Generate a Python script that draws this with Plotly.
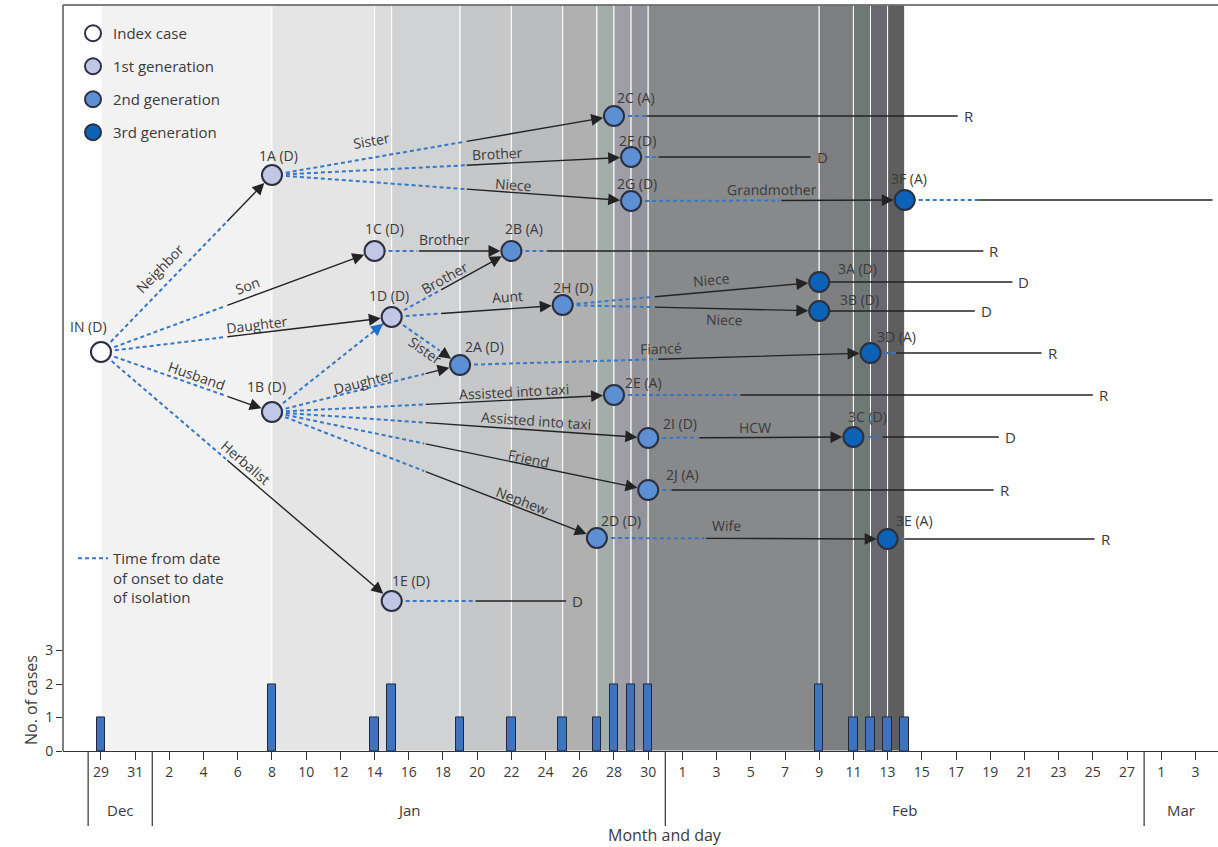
import math
import plotly.graph_objects as go

FONT = "Open Sans"
TXT = "#3a3a3a"

# ---------------- data (day 0 = 29 Dec) ----------------
case_id = ["IN", "1A", "1B", "1C", "1D", "1E",
           "2A", "2B", "2C", "2D", "2E", "2F", "2G", "2H", "2I", "2J",
           "3A", "3B", "3C", "3D", "3E", "3F"]
generation = [0, 1, 1, 1, 1, 1,
              2, 2, 2, 2, 2, 2, 2, 2, 2, 2,
              3, 3, 3, 3, 3, 3]
status = ["D", "D", "D", "D", "D", "D",
          "D", "A", "A", "D", "A", "D", "D", "D", "D", "A",
          "D", "D", "D", "A", "A", "A"]
onset_day = [0, 10, 10, 16, 17, 17,
             21, 24, 30, 29, 30, 31, 31, 27, 32, 32,
             42, 42, 44, 45, 46, 47]
isolation_day = [7.3, 21.3, 18.9, 18.5, 19.8, 21.9,
                 32.5, 26.1, 31.9, 35.3, 37.4, 32.6, 39.7, 32.3, 34.9, 33.4,
                 42.0, 42.0, 45.7, 46.5, 47.0, 51.3]
outcome_day = [None, None, None, None, None, 27.2,
               None, 51.6, 50.1, None, 58.0, 41.5, None, None, None, 52.2,
               53.3, 51.1, 52.5, 55.0, 58.1, 65.0]
# vertical row of each case in the transmission diagram (top = 5, bottom = 751)
case_row = [352, 175, 412, 251, 317, 601,
            365, 251, 116, 538, 395, 157, 201, 305, 438, 490,
            282, 311, 437, 353, 539, 200]

edge_src = ["IN", "IN", "IN", "IN", "IN", "1A", "1A", "1A", "1C", "1D", "1D", "1D",
            "1B", "1B", "1B", "1B", "1B", "1B", "2G", "2H", "2H", "2A", "2I", "2D"]
edge_tgt = ["1A", "1C", "1D", "1B", "1E", "2C", "2F", "2G", "2B", "2B", "2H", "2A",
            "1D", "2A", "2E", "2I", "2J", "2D", "3F", "3A", "3B", "3D", "3C", "3E"]
edge_label = ["Neighbor", "Son", "Daughter", "Husband", "Herbalist", "Sister", "Brother", "Niece",
              "Brother", "Brother", "Aunt", "Sister", "", "Daughter", "Assisted into taxi",
              "Assisted into taxi", "Friend", "Nephew", "Grandmother", "Niece", "Niece",
              "Fiancé", "HCW", "Wife"]

bar_day = [0, 10, 16, 17, 21, 24, 27, 29, 30, 31, 32, 42, 44, 45, 46, 47]
bar_count = [1, 2, 1, 2, 1, 1, 1, 1, 2, 2, 2, 2, 1, 1, 1, 1]

tick_day = list(range(0, 65, 2))
tick_label = ["29", "31", "2", "4", "6", "8", "10", "12", "14", "16", "18", "20", "22",
              "24", "26", "28", "30", "1", "3", "5", "7", "9", "11", "13", "15", "17",
              "19", "21", "23", "25", "27", "1", "3"]
month_name = ["Dec", "Jan", "Feb", "Mar"]

gen_name = ["Index case", "1st generation", "2nd generation", "3rd generation"]

# ---------------- style ----------------
gen_fill = ["#ffffff", "#c2c7e7", "#5d8fd5", "#0b62b6"]
NODE_EDGE = "#2c2f3f"
DASH_BLUE = "#3579c6"
SOLID = "#232323"
band_color = ["#f2f2f3", "#e5e5e6", "#dcdcdd", "#d1d2d4", "#c6c7c8", "#bbbcbe",
              "#b0b0b1", "#a3adaa", "#9e9ea6", "#93939c", "#88898b", "#7d7e80",
              "#6f7874", "#69686f", "#5e5e5e"]

# label offsets (px) for node labels: dx, dy
node_label_off = {
    "IN": (-12, -26), "1A": (7, -20), "1B": (-5, -26), "1C": (10, -23), "1D": (-3, -22),
    "1E": (19, -21), "2A": (24, -19), "2B": (13, -23), "2C": (22, -19), "2D": (24, -18),
    "2E": (30, -13), "2F": (6, -17), "2G": (6, -18), "2H": (10, -18), "2I": (32, -15),
    "2J": (34, -16), "3A": (38, -14), "3B": (40, -12), "3C": (14, -21), "3D": (26, -17),
    "3E": (27, -19), "3F": (4, -22),
}
# edge label placement: fraction along edge, signed perpendicular offset (px, + = above)
edge_label_pos = [(0.41, 16), (0.55, 12), (0.54, 9), (0.54, 9), (0.475, 10), (0.30, 17),
                  (0.63, 10), (0.67, 8), (0.51, 12), (0.48, 9), (0.68, 12), (0.56, -8),
                  (0.5, 0), (0.50, 7), (0.71, 8), (0.70, 10), (0.68, 7), (0.76, 8),
                  (0.515, 11), (0.585, 12), (0.63, -11), (0.49, 11), (0.52, 10), (0.445, 13)]

W, H = 1218, 847
ML, MR, MT, MB = 63, 0, 5, 96
X0, X1 = -2.22, 65.32
PXD = (W - ML - MR) / (X1 - X0)      # px per day
PLOT_H = H - MT - MB
PLOT_W = W - ML - MR
ROW_TOP, ROW_BOT = 5, 751

idx = {c: i for i, c in enumerate(case_id)}

fig = go.Figure()

# background bands between successive onset dates
shapes = []
for k in range(len(bar_day) - 1):
    shapes.append(dict(type="rect", xref="x", yref="paper", x0=bar_day[k], x1=bar_day[k + 1],
                       y0=0, y1=1, fillcolor=band_color[k], line=dict(color="white", width=1),
                       layer="below"))

# ---------------- edges ----------------
dash_x, dash_y = [], []
sol_x, sol_y = [], []
annotations = []

for e, (s, t) in enumerate(zip(edge_src, edge_tgt)):
    i, j = idx[s], idx[t]
    xs, ys = onset_day[i], case_row[i]
    xt, yt = onset_day[j], case_row[j]
    tiso = (isolation_day[i] - xs) / (xt - xs)
    dxp, dyp = (xt - xs) * PXD, (yt - ys)
    L = math.hypot(dxp, dyp)
    ux, uy = dxp / L, dyp / L
    if tiso < 1:
        xi, yi = xs + tiso * (xt - xs), ys + tiso * (yt - ys)
        dash_x += [xs, xi, None]
        dash_y += [ys, yi, None]
        annotations.append(dict(x=xt, y=yt, ax=xi, ay=yi, xref="x", yref="y2", axref="x",
                                ayref="y2", text="", showarrow=True, arrowhead=2,
                                arrowsize=1.7, arrowwidth=1.4, arrowcolor=SOLID, standoff=11))
    else:
        dash_x += [xs, xt, None]
        dash_y += [ys, yt, None]
        annotations.append(dict(x=xt, y=yt, ax=xt - 26 * ux / PXD, ay=yt - 26 * uy,
                                xref="x", yref="y2", axref="x", ayref="y2", text="",
                                showarrow=True, arrowhead=2, arrowsize=1.7, arrowwidth=1.4,
                                arrowcolor="#1f6fc4", standoff=11))
    if edge_label[e]:
        tf, off = edge_label_pos[e]
        th = math.atan2(dyp, dxp)
        annotations.append(dict(x=xs + tf * (xt - xs), y=ys + tf * (yt - ys), xref="x", yref="y2",
                                text=edge_label[e], showarrow=False,
                                textangle=math.degrees(th),
                                xshift=off * math.sin(th), yshift=off * math.cos(th),
                                font=dict(family=FONT, size=14, color=TXT)))

# onset-to-isolation and outcome lines for terminal cases
for i, c in enumerate(case_id):
    if outcome_day[i] is None:
        continue
    y = case_row[i]
    if isolation_day[i] > onset_day[i]:
        dash_x += [onset_day[i], isolation_day[i], None]
        dash_y += [y, y, None]
    sol_x += [isolation_day[i], outcome_day[i], None]
    sol_y += [y, y, None]
    if outcome_day[i] + 1.0 < X1:          # outcome letter only when inside the frame
        annotations.append(dict(x=outcome_day[i], y=y, xref="x", yref="y2",
                                text="R" if status[i] == "A" else "D", showarrow=False,
                                xanchor="left", xshift=4,
                                font=dict(family=FONT, size=15, color=TXT)))

fig.add_trace(go.Scatter(x=dash_x, y=dash_y, mode="lines", xaxis="x", yaxis="y2",
                         line=dict(color=DASH_BLUE, width=2, dash="4px,3px"),
                         name="Time from date<br>of onset to date<br>of isolation",
                         legend="legend2", hoverinfo="skip"))
fig.add_trace(go.Scatter(x=sol_x, y=sol_y, mode="lines", xaxis="x", yaxis="y2",
                         line=dict(color=SOLID, width=1.5), showlegend=False, hoverinfo="skip"))

# nodes
for g in range(4):
    members = [i for i in range(len(case_id)) if generation[i] == g]
    fig.add_trace(go.Scatter(
        x=[onset_day[i] for i in members], y=[case_row[i] for i in members],
        mode="markers", xaxis="x", yaxis="y2", name=gen_name[g], legendgroup=f"g{g}",
        marker=dict(size=20, color=gen_fill[g], line=dict(color=NODE_EDGE, width=2)),
        text=[case_id[i] for i in members], hoverinfo="text"))

for i, c in enumerate(case_id):
    dx, dy = node_label_off[c]
    annotations.append(dict(x=onset_day[i], y=case_row[i], xref="x", yref="y2",
                            text=f"{c} ({status[i]})", showarrow=False,
                            xshift=dx, yshift=-dy,
                            font=dict(family=FONT, size=14, color=TXT)))

# epidemic curve
fig.add_trace(go.Bar(x=bar_day, y=bar_count, width=0.5, xaxis="x", yaxis="y",
                     marker=dict(color="#3e74bf", line=dict(color="#20283d", width=1)),
                     showlegend=False, hoverinfo="x+y"))

# month separators and labels
first_tick_of_month = [0] + [k for k in range(1, len(tick_label))
                             if int(tick_label[k]) < int(tick_label[k - 1])]
sep_day = [tick_day[0] - 0.75] + [(tick_day[k - 1] + tick_day[k]) / 2
                                  for k in first_tick_of_month[1:]]
sep_bounds = sep_day + [X1]


def ypx(p):
    return (ROW_BOT - p) / PLOT_H


def xpx(p):
    return (p - ML) / PLOT_W


for sd in sep_day:
    shapes.append(dict(type="line", xref="x", yref="paper", x0=sd, x1=sd,
                       y0=0, y1=ypx(826), line=dict(color="#333333", width=1.2)))
for m, name in enumerate(month_name):
    annotations.append(dict(x=(sep_bounds[m] + sep_bounds[m + 1]) / 2, y=ypx(810),
                            xref="x", yref="paper", text=name, showarrow=False,
                            xanchor="center", yanchor="middle",
                            font=dict(family=FONT, size=15, color=TXT)))

annotations.append(dict(x=xpx(665), y=ypx(835), xref="paper", yref="paper",
                        text="Month and day", showarrow=False, xanchor="center",
                        yanchor="middle", font=dict(family=FONT, size=16, color=TXT)))
annotations.append(dict(x=xpx(31), y=ypx(700), xref="paper", yref="paper",
                        text="No. of cases", showarrow=False, textangle=-90,
                        xanchor="center", yanchor="middle",
                        font=dict(family=FONT, size=16, color=TXT)))

# frame
shapes.append(dict(type="line", xref="paper", yref="paper", x0=0, x1=1, y0=1, y1=1,
                   line=dict(color="#555555", width=1.5)))
shapes.append(dict(type="line", xref="paper", yref="paper", x0=0, x1=0, y0=0, y1=1,
                   line=dict(color="#555555", width=1.5)))

fig.update_layout(
    width=W, height=H, margin=dict(l=ML, r=MR, t=MT, b=MB),
    paper_bgcolor="white", plot_bgcolor="rgba(0,0,0,0)",
    font=dict(family=FONT, size=14, color=TXT),
    shapes=shapes, annotations=annotations, bargap=0,
    xaxis=dict(range=[X0, X1], anchor="y", tickvals=tick_day, ticktext=tick_label,
               ticks="outside", ticklen=8, tickcolor="#333", showline=True,
               linecolor="#333", linewidth=1.2, showgrid=False, zeroline=False,
               tickfont=dict(family=FONT, size=14, color=TXT)),
    yaxis=dict(domain=[0, 3.3 * 33.5 / PLOT_H], range=[0, 3.3], tickvals=[0, 1, 2, 3],
               ticks="outside", ticklen=6, tickcolor="#333", showgrid=False, zeroline=False,
               showline=False, tickfont=dict(family=FONT, size=14, color=TXT)),
    yaxis2=dict(domain=[0, 1], range=[ROW_BOT, ROW_TOP], anchor="x", visible=False,
                showgrid=False, zeroline=False),
    legend=dict(x=xpx(73), y=1 - (17 - MT) / PLOT_H, xanchor="left",
                yanchor="top", bgcolor="rgba(0,0,0,0)", traceorder="grouped",
                tracegroupgap=10.5, font=dict(family=FONT, size=15, color=TXT)),
    legend2=dict(x=xpx(73), y=1 - (542 - MT) / PLOT_H, xanchor="left",
                 yanchor="top", bgcolor="rgba(0,0,0,0)", valign="top",
                 font=dict(family=FONT, size=15, color=TXT)),
    showlegend=True,
)

fig.write_html("out.html", config={"displayModeBar": False},
               post_script="document.body.style.margin='0px';")
